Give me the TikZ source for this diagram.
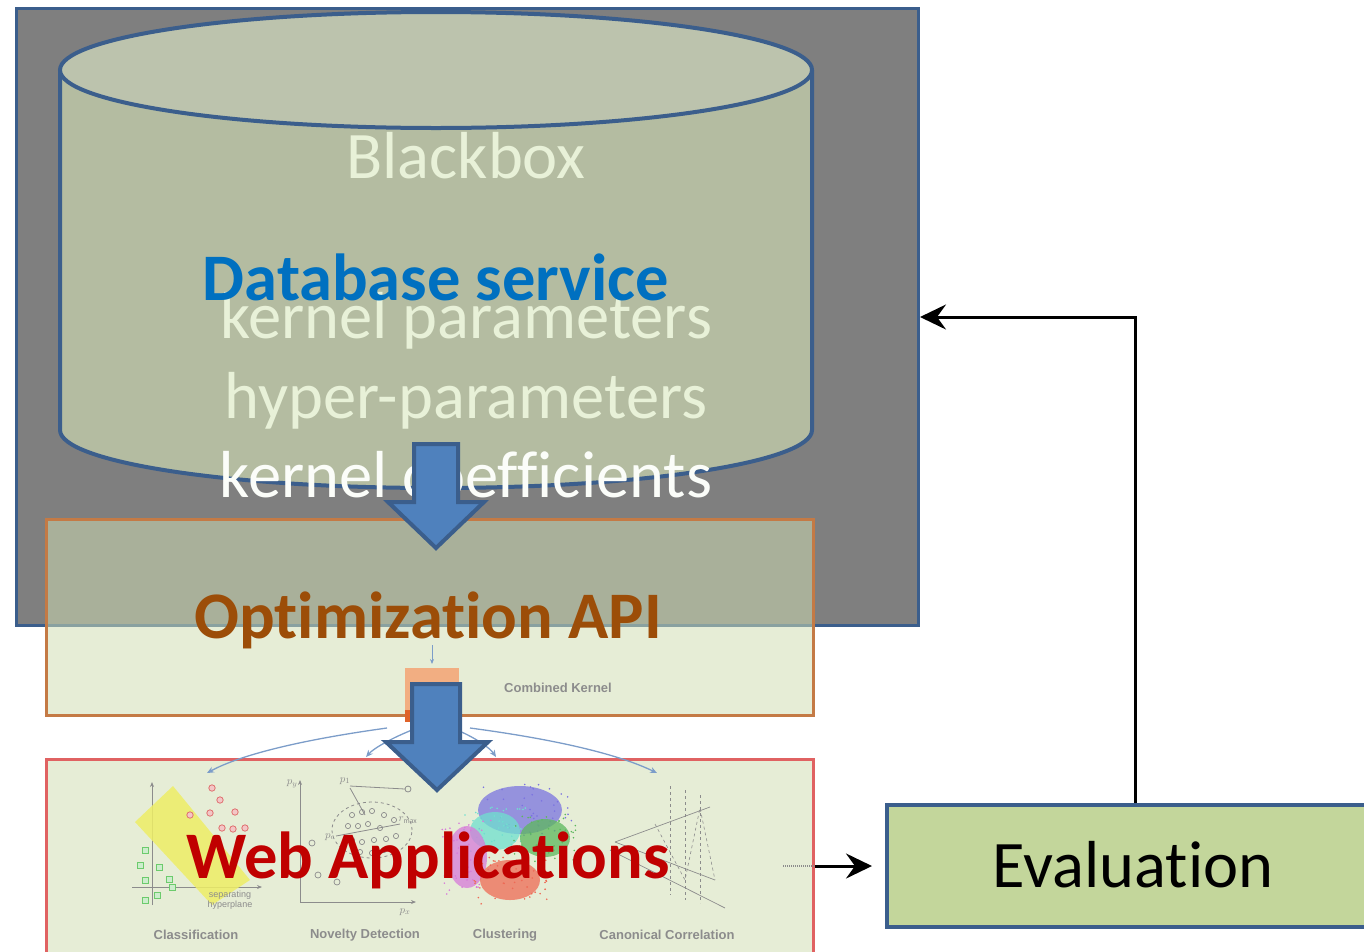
\documentclass[tikz,border=0pt]{standalone}
\usepackage{fontspec}
\setmainfont{Carlito}[Ligatures=NoCommon]
\newfontfamily\arialfont{Liberation Sans}
\usetikzlibrary{arrows.meta,calc}

\definecolor{frameblue}{HTML}{3B5E8C}
\definecolor{boxgrey}{HTML}{7F7F7F}
\definecolor{cylfill}{HTML}{B4BCA1}
\definecolor{cyltop}{HTML}{BCC3AD}
\definecolor{paletext}{HTML}{E8F1D8}
\definecolor{dbblue}{HTML}{0070C0}
\definecolor{optbrown}{HTML}{9C4D08}
\definecolor{optframe}{HTML}{C47A45}
\definecolor{panelfill}{RGB}{208,221,178}
\definecolor{webred}{HTML}{C00000}
\definecolor{webframe}{HTML}{E06262}
\definecolor{arrowblue}{HTML}{4F81BD}
\definecolor{evalgreen}{HTML}{C3D69B}
\definecolor{thinblue}{HTML}{7C9DC9}
\definecolor{labelgrey}{HTML}{8C8C8C}
\definecolor{kernelorange}{HTML}{F2AE82}
\definecolor{kerneldark}{HTML}{E0632A}
\definecolor{clpurple}{HTML}{7B73E0}
\definecolor{clcyan}{HTML}{6FE0CF}
\definecolor{clgreen}{HTML}{5DB85D}
\definecolor{clpink}{HTML}{D77BD9}
\definecolor{clred}{HTML}{EE6A55}
\definecolor{svmyellow}{HTML}{EEEE66}
\definecolor{svmred}{HTML}{E07070}
\definecolor{svmgreen}{HTML}{6CCB6C}

\tikzset{
  bigtext/.style={font=\fontsize{66.5}{74}\selectfont, inner sep=0pt, anchor=base},
  bigbold/.style={font=\bfseries\fontsize{66.5}{74}\selectfont, inner sep=0pt, anchor=base},
  panel/.style={line width=3pt, fill=panelfill, fill opacity=0.53, inner sep=0pt, anchor=north west},
  blockarrow/.style={fill=arrowblue, draw=frameblue, line width=4pt, line join=miter},
  flow/.style={line width=3pt, -{Stealth[length=26pt, width=25pt, inset=9pt]}},
  minilabel/.style={font=\arialfont\bfseries\fontsize{13}{15}\selectfont, text=labelgrey, inner sep=0pt},
  tinylabel/.style={font=\itshape\fontsize{11}{12}\selectfont, text=labelgrey, inner sep=0pt},
  thinarrow/.style={thinblue, line width=1.3pt, -{Stealth[length=7pt, width=6pt]}},
  axis/.style={labelgrey, line width=0.8pt, -{Stealth[length=5pt, width=4pt]}},
}

\begin{document}
\begin{tikzpicture}[x=1pt, y=-1pt]
\useasboundingbox (0,0) rectangle (1364,951);

% Blackbox frame
\node[draw=frameblue, line width=3pt, fill=boxgrey, minimum width=902pt,
      minimum height=617pt, inner sep=0pt, anchor=north west] (blackbox) at (15,7) {};

% Database cylinder
\path[fill=cylfill, draw=frameblue, line width=4pt]
  (60,70) -- (60,430) arc[start angle=180, end angle=360, x radius=376pt, y radius=58pt]
  -- (812,70);
\draw[fill=cyltop, draw=frameblue, line width=4pt] (436,70) ellipse[x radius=376pt, y radius=58pt];

\node[bigtext, text=paletext] (bbtitle) at (466,178) {Blackbox};
\node[bigtext, text=paletext] (kparams) at (466,338) {kernel parameters};
\node[bigtext, text=paletext] (hparams) at (466,418) {hyper-parameters};
\node[bigtext, text=white!85!paletext] (kcoef) at (466,497) {kernel coefficients};
\node[bigbold, text=dbblue] (dbtext) at (436,300) {Database service};

% Optimization API panel
\node[panel, draw=optframe, minimum width=767pt, minimum height=196pt] (optapi) at (45,518) {};

% block arrow: database -> optimization
\draw[blockarrow] (414,444) -- (458,444) -- (458,502) -- (484,502) -- (436,548)
  -- (388,502) -- (414,502) -- cycle;

\node[bigbold, text=optbrown] (opttext) at (428,638) {Optimization API};

% combined kernel sketch
\draw[thinblue, line width=1pt, -{Stealth[length=5pt, width=4pt]}] (432,645) -- (432,664);
\fill[kernelorange] (405,668) rectangle (459,722);
\fill[kerneldark] (405,710) rectangle (414,722);
\node[minilabel] (ckernel) at (558,688) {Combined Kernel};

% Web applications panel
\node[panel, draw=webframe, minimum width=767pt, minimum height=215pt] (webapp) at (45,758) {};

% --- classification sketch
\draw[axis] (152,905) -- (152,782);
\draw[axis] (132,887) -- (262,887);
\fill[svmyellow, opacity=0.85] (135,822) -- (173,786) -- (250,880) -- (212,905) -- cycle;
\foreach \x/\y in {190/815,210/813,220/800,212/788,235/812,245/828,233/829,222/828}
  \draw[svmred, fill=svmred!40, line width=0.8pt] (\x,\y) circle (3.2pt);
\foreach \x/\y in {145/850,140/865,159/867,145/880,169/879,172/887,157/895,145/900}
  \draw[svmgreen, fill=svmgreen!35, line width=0.8pt] (\x-3,\y-3) rectangle (\x+3,\y+3);
\node[font=\arialfont\fontsize{9}{10}\selectfont, text=labelgrey, align=center, inner sep=0pt]
  (hyperplane) at (230,900) {separating\\hyperplane};

% --- novelty detection sketch
\draw[axis] (300,902) -- (300,780);
\draw[axis] (300,902) -- (416,902);
\node[tinylabel] (py) at (292,784) {$p_y$};
\node[tinylabel] (px) at (405,912) {$p_x$};
\node[tinylabel] (p1) at (345,781) {$p_1$};
\node[tinylabel] (pc) at (330,837) {$p_c$};
\node[tinylabel] (rmax) at (408,820) {$r_{\max}$};
\draw[labelgrey, line width=0.8pt] (350,786) -- (405,789);
\draw[labelgrey, line width=0.8pt] (408,789) circle (3pt);
\draw[labelgrey, line width=0.8pt] (350,788) -- (365,815);
\draw[labelgrey, line width=0.8pt, dashed] (372,830) ellipse[x radius=40pt, y radius=28pt];
\draw[labelgrey, line width=0.8pt] (336,836) -- (400,824);
\foreach \x/\y in {352/815,362/812,372/811,384/815,394/820,348/826,358/826,
                   368/824,380/828,352/840,362/842,374/840,386/839,396/836,
                   360/852,372/853,384/850}
  \draw[labelgrey, line width=0.7pt] (\x,\y) circle (2.6pt);
\foreach \x/\y in {312/843,318/875,337/882}
  \draw[labelgrey, line width=0.7pt] (\x,\y) circle (3pt);

% --- clustering sketch
\pgfmathsetseed{11}
\foreach \cx/\cy/\rx/\ry/\col in {520/810/42/24/clpurple, 495/831/25/19/clcyan,
    545/838/25/19/clgreen, 467/857/20/31/clpink, 510/880/30/20/clred}{
  \fill[\col, opacity=0.75] (\cx,\cy) ellipse[x radius=\rx pt, y radius=\ry pt];
  \foreach \i in {1,...,45}{
    \pgfmathsetmacro{\dx}{1.25*rand*\rx}
    \pgfmathsetmacro{\dy}{1.25*rand*\ry}
    \fill[\col] (\cx+\dx,\cy+\dy) circle (0.9pt);
  }
}

% --- canonical correlation sketch
\draw[labelgrey, line width=0.7pt] (615,842) -- (710,807);
\draw[labelgrey, line width=0.7pt] (615,842) -- (715,880);
\draw[labelgrey, line width=0.7pt] (610,850) -- (725,908);
\draw[labelgrey, line width=0.6pt, dashed] (670,786) -- (670,895) (685,790) -- (685,900)
  (700,795) -- (700,903);
\draw[labelgrey, line width=0.6pt, dashed] (655,824) -- (685,880) -- (700,808) -- (715,880);

% thin fan-out arrows from the combined kernel
\draw[thinarrow] (387,728) .. controls (300,740) and (240,755) .. (207,773);
\draw[thinarrow] (412,730) .. controls (392,738) and (374,748) .. (366,757);
\draw[thinarrow] (457,730) .. controls (476,738) and (490,748) .. (496,757);
\draw[thinarrow] (470,728) .. controls (560,740) and (620,755) .. (657,773);

% block arrow: optimization -> web applications
\draw[blockarrow] (412,684) -- (460,684) -- (460,742) -- (488,742) -- (437,790)
  -- (386,742) -- (412,742) -- cycle;

\node[minilabel] (lclass) at (196,935) {Classification};
\node[minilabel] (lnovel) at (365,935) {Novelty Detection};
\node[minilabel] (lclust) at (505,935) {Clustering};
\node[minilabel] (lcanon) at (667,935) {Canonical Correlation};

\node[bigbold, text=webred] (webtext) at (428,878) {Web Applications};

% Evaluation box
\node[draw=frameblue, line width=4pt, fill=evalgreen, minimum width=496pt,
      minimum height=122pt, inner sep=0pt, anchor=north west] (eval) at (885,803) {};
\node[bigtext, text=black] (evaltext) at (1133,887) {Evaluation};

% connectors
\draw[labelgrey, line width=2pt, dash pattern=on 1pt off 1pt]
  ([xshift=-32pt]webapp.east |- eval.west) -- (webapp.east |- eval.west);
\draw[flow, shorten >=13pt] (webapp.east |- eval.west) -- (eval.west);
\draw[flow] (eval.north) |- (blackbox.east);
\end{tikzpicture}
\end{document}
